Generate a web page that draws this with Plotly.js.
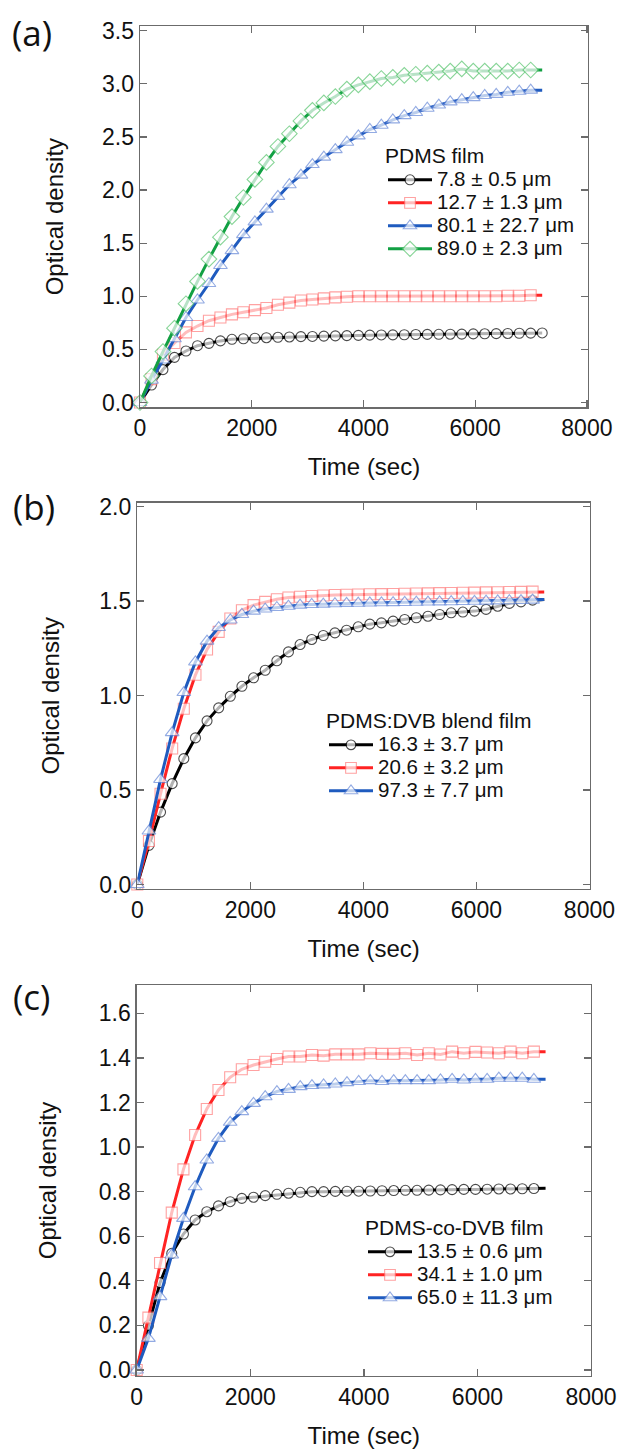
<!DOCTYPE html>
<html>
<head>
<meta charset="utf-8">
<script src="https://cdn.plot.ly/plotly-3.0.1.min.js"></script>
<style>html,body{margin:0;padding:0;background:#fff;}#chart{width:621px;height:1449px;}</style>
</head>
<body>
<div id="chart"></div>
<script>
// ---- data (time in seconds, optical density) ----
const time = [0,206,411,617,823,1029,1234,1440,1646,1851,2057,2263,2469,2674,2880,3086,3291,3497,3703,3909,4114,4320,4526,4731,4937,5143,5349,5554,5760,5966,6171,6377,6583,6789,6994,7200];

// (a) PDMS film
const aNames = ["7.8 ± 0.5 μm", "12.7 ± 1.3 μm", "80.1 ± 22.7 μm", "89.0 ± 2.3 μm"];
const a_black = [0,0.165,0.31,0.425,0.485,0.535,0.557,0.58,0.595,0.60,0.605,0.61,0.614,0.617,0.62,0.622,0.625,0.627,0.63,0.632,0.634,0.636,0.637,0.638,0.64,0.641,0.642,0.643,0.644,0.646,0.647,0.648,0.65,0.652,0.653,0.655];
const a_red = [0,0.22,0.45,0.56,0.66,0.72,0.77,0.80,0.83,0.85,0.87,0.89,0.92,0.94,0.96,0.97,0.98,0.99,0.995,1.00,1.00,1.00,1.00,1.00,1.00,1.00,1.00,1.00,1.00,1.00,1.00,1.00,1.005,1.005,1.01,1.01];
const a_blue = [0,0.21,0.40,0.60,0.80,0.965,1.12,1.29,1.43,1.58,1.70,1.82,1.94,2.05,2.14,2.24,2.31,2.38,2.45,2.51,2.57,2.61,2.66,2.70,2.73,2.77,2.80,2.83,2.85,2.87,2.89,2.90,2.92,2.93,2.94,2.94];
const a_green = [0,0.25,0.48,0.70,0.93,1.14,1.35,1.556,1.75,1.93,2.10,2.26,2.41,2.53,2.65,2.75,2.82,2.88,2.95,2.99,3.02,3.05,3.06,3.08,3.09,3.10,3.11,3.12,3.14,3.12,3.12,3.12,3.12,3.13,3.13,3.13];

// (b) PDMS:DVB blend film
const bNames = ["16.3 ± 3.7 μm", "20.6 ± 3.2 μm", "97.3 ± 7.7 μm"];
const b_black = [0,0.207,0.383,0.534,0.666,0.776,0.866,0.935,0.996,1.049,1.094,1.134,1.184,1.231,1.270,1.297,1.318,1.332,1.346,1.364,1.378,1.385,1.394,1.403,1.412,1.420,1.429,1.438,1.442,1.447,1.456,1.473,1.488,1.496,1.505,1.509];
const b_red = [0,0.23,0.48,0.72,0.93,1.11,1.244,1.337,1.408,1.452,1.479,1.496,1.51,1.519,1.523,1.527,1.53,1.532,1.534,1.535,1.536,1.537,1.538,1.539,1.540,1.541,1.542,1.543,1.544,1.545,1.546,1.547,1.548,1.549,1.55,1.548];
const b_blue = [0,0.283,0.556,0.804,1.016,1.178,1.288,1.36,1.40,1.429,1.447,1.458,1.466,1.473,1.479,1.482,1.484,1.486,1.488,1.489,1.49,1.491,1.492,1.493,1.494,1.495,1.496,1.497,1.498,1.499,1.50,1.501,1.502,1.503,1.505,1.508];

// (c) PDMS-co-DVB film
const cNames = ["13.5 ± 0.6 μm", "34.1 ± 1.0 μm", "65.0 ± 11.3 μm"];
const c_black = [0,0.20,0.392,0.523,0.61,0.673,0.71,0.736,0.755,0.77,0.775,0.782,0.788,0.793,0.797,0.80,0.80,0.801,0.802,0.802,0.803,0.804,0.805,0.806,0.806,0.807,0.808,0.809,0.81,0.81,0.811,0.812,0.812,0.813,0.814,0.815];
const c_red = [0,0.235,0.48,0.706,0.90,1.054,1.171,1.256,1.313,1.349,1.368,1.383,1.395,1.406,1.406,1.413,1.41,1.416,1.416,1.416,1.421,1.418,1.418,1.421,1.413,1.421,1.415,1.428,1.421,1.427,1.424,1.421,1.428,1.421,1.428,1.428];
const c_blue = [0,0.142,0.329,0.516,0.68,0.822,0.942,1.039,1.111,1.159,1.196,1.226,1.249,1.259,1.271,1.276,1.279,1.283,1.289,1.294,1.298,1.294,1.298,1.298,1.298,1.298,1.301,1.304,1.301,1.304,1.304,1.309,1.309,1.309,1.304,1.304];

const legendTitles = ["PDMS film", "PDMS:DVB blend film", "PDMS-co-DVB film"];
const panelLabels = ["(a)", "(b)", "(c)"];
const xTitle = "Time (sec)";
const yTitle = "Optical density";

// ---- styles ----
const FONT = "Liberation Sans, Arial, Helvetica, sans-serif";
const S = {
  black: {line: "#000000", mk: "#000000", sym: "circle", size: 10},
  red:   {line: "#ff2323", mk: "#ff7b7b", sym: "square", size: 11},
  blue:  {line: "#1f5bbf", mk: "#6688d8", sym: "triangle-up", size: 12},
  green: {line: "#12a043", mk: "#55c46c", sym: "diamond", size: 12}
};

function trace(x, y, name, st, xa, ya, leg, markLast) {
  const sizes = x.map((_, i) => (i === x.length - 1 && !markLast) ? 0 : st.size);
  return {
    type: "scatter", mode: "lines+markers", x: x, y: y,
    name: '<span style="font-size:20.5px">' + name + '</span>',
    xaxis: xa, yaxis: ya, legend: leg, cliponaxis: false,
    line: {color: st.line, width: 3},
    marker: {symbol: st.sym, size: sizes, color: "#ffffff", line: {color: st.mk, width: 1.1}}
  };
}

const data = [
  trace(time, a_black, aNames[0], S.black, "x", "y", "legend", true),
  trace(time, a_red, aNames[1], S.red, "x", "y", "legend", false),
  trace(time, a_blue, aNames[2], S.blue, "x", "y", "legend", false),
  trace(time, a_green, aNames[3], S.green, "x", "y", "legend", false),
  trace(time, b_black, bNames[0], S.black, "x2", "y2", "legend2", false),
  trace(time, b_red, bNames[1], S.red, "x2", "y2", "legend2", false),
  trace(time, b_blue, bNames[2], S.blue, "x2", "y2", "legend2", false),
  trace(time, c_black, cNames[0], S.black, "x3", "y3", "legend3", false),
  trace(time, c_red, cNames[1], S.red, "x3", "y3", "legend3", false),
  trace(time, c_blue, cNames[2], S.blue, "x3", "y3", "legend3", false)
];

const W = 621, H = 1449;
function px(x) { return x / W; }
function py(y) { return 1 - y / H; }

function xaxis(domain, range, anchor) {
  return {
    domain: domain, range: range, anchor: anchor,
    tickvals: [0, 2000, 4000, 6000, 8000], ticktext: ["0", "2000", "4000", "6000", "8000"],
    ticks: "inside", ticklen: 7, tickwidth: 1.3, tickcolor: "#6b6b6b",
    showline: true, linecolor: "#6b6b6b", linewidth: 1.4, mirror: "ticks",
    showgrid: false, zeroline: false,
    tickfont: {family: FONT, size: 23, color: "#111"},
    title: {text: xTitle, font: {family: FONT, size: 24, color: "#111"}, standoff: 18}
  };
}
function yaxis(domain, range, anchor, tickvals, standoff) {
  return {
    domain: domain, range: range, anchor: anchor,
    tickvals: tickvals, ticktext: tickvals.map(v => v.toFixed(1)),
    ticks: "inside", ticklen: 7, tickwidth: 1.3, tickcolor: "#6b6b6b",
    showline: true, linecolor: "#6b6b6b", linewidth: 1.4, mirror: "ticks",
    showgrid: false, zeroline: false,
    tickfont: {family: FONT, size: 23, color: "#111"},
    title: {text: yTitle, font: {family: FONT, size: 24, color: "#111"}, standoff: standoff}
  };
}

function legend(x, y, title) {
  return {
    x: px(x), y: py(y), xanchor: "left", yanchor: "top",
    bgcolor: "rgba(0,0,0,0)", borderwidth: 0,
    font: {family: FONT, size: 15.4, color: "#111"},
    title: {text: title, font: {family: FONT, size: 21, color: "#111"}},
    tracegroupgap: 0, itemwidth: 44
  };
}

const LBL = {family: "Open Sans, sans-serif", size: 35, color: "#111"};
const layout = {
  width: W, height: H,
  margin: {l: 0, r: 0, t: 0, b: 0},
  paper_bgcolor: "#ffffff", plot_bgcolor: "#ffffff",
  showlegend: true,
  xaxis: xaxis([px(140), px(588)], [0, 8020], "y"),
  yaxis: yaxis([py(407.3), py(26)], [-0.045, 3.544], "x", [0, 0.5, 1, 1.5, 2, 2.5, 3, 3.5], 31),
  xaxis2: xaxis([px(137.3), px(590)], [0, 8010], "y2"),
  yaxis2: yaxis([py(889), py(502.5)], [-0.024, 2.022], "x2", [0, 0.5, 1, 1.5, 2], 33),
  xaxis3: xaxis([px(136.7), px(591)], [0, 8000], "y3"),
  yaxis3: yaxis([py(1376), py(985)], [-0.027, 1.727], "x3", [0, 0.2, 0.4, 0.6, 0.8, 1.0, 1.2, 1.4, 1.6], 35),
  legend: legend(383, 136, legendTitles[0]),
  legend2: legend(324, 701, legendTitles[1]),
  legend3: legend(363, 1208, legendTitles[2]),
  annotations: [
    {text: panelLabels[0], xref: "paper", yref: "paper", x: px(10), y: py(32.5), xanchor: "left", yanchor: "middle", showarrow: false, font: LBL},
    {text: panelLabels[1], xref: "paper", yref: "paper", x: px(11), y: py(506), xanchor: "left", yanchor: "middle", showarrow: false, font: LBL},
    {text: panelLabels[2], xref: "paper", yref: "paper", x: px(11), y: py(996.5), xanchor: "left", yanchor: "middle", showarrow: false, font: LBL}
  ]
};

Plotly.newPlot("chart", data, layout, {staticPlot: true, displayModeBar: false});
</script>
</body>
</html>
